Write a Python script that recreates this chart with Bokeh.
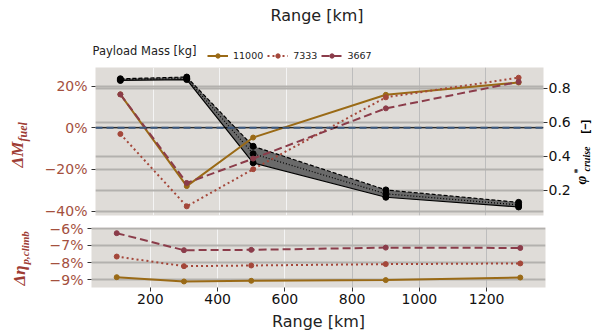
import numpy as np
from bokeh.plotting import figure
from bokeh.models import (Range1d, LinearAxis, FixedTicker, Grid, Span, Label,
                          Legend, LegendItem)
from bokeh.layouts import column, row
from bokeh.embed import file_html
from bokeh.resources import INLINE

# ---------------- data ----------------
range_km = [100, 300, 500, 900, 1300]
payload_labels = ["11000", "7333", "3667"]

dmf_11000 = [16.0, -28.0, -4.7, 15.8, 21.7]
dmf_7333 = [-3.0, -37.7, -19.9, 14.6, 24.0]
dmf_3667 = [16.0, -26.5, -14.8, 9.3, 22.0]

phi_11000 = [0.845, 0.850, 0.362, 0.160, 0.103]
phi_7333 = [0.850, 0.857, 0.415, 0.180, 0.115]
phi_3667 = [0.855, 0.865, 0.459, 0.203, 0.130]

deta_11000 = [-8.85, -9.10, -9.06, -9.02, -8.87]
deta_7333 = [-7.65, -8.21, -8.17, -8.09, -8.05]
deta_3667 = [-6.29, -7.28, -7.26, -7.13, -7.15]

x_ticks = [200, 400, 600, 800, 1000, 1200]
dmf_ticks = [-40, -20, 0, 20]
dmf_tick_labels = ["\u221240%", "\u221220%", "0%", "20%"]
phi_ticks = [0.2, 0.4, 0.6, 0.8]
deta_ticks = [-9, -8, -7, -6]
deta_tick_labels = ["\u22129%", "\u22128%", "\u22127%", "\u22126%"]

# ---------------- style ----------------
BG = "#dfdcd8"
HGRID = "#b3b1ae"
C_GOLD = "#9a6a16"
C_DOT = "#a4473a"
C_DASH = "#8b3c4a"
C_AX = "#a4503e"
C_TITLE = "#9e3c34"
FONT = "DejaVu Sans"
SERIF = "Liberation Serif"

PAGE_W = 595
HEAD_H = 67
ROW1_H, ROW2_H = 153, 115
LCOL, RCOL = 41, 22
MAIN_W = PAGE_W - LCOL - RCOL
BL, BR = 50, 28
STYLES = [(C_GOLD, "solid"), (C_DOT, "2 3"), (C_DASH, "8 4")]


def blank(w, h):
    f = figure(width=w, height=h, output_backend="svg", toolbar_location=None,
               x_range=Range1d(0, 1), y_range=Range1d(0, 1),
               x_axis_location=None, y_axis_location=None, min_border=0)
    f.outline_line_color = None
    f.background_fill_color = "white"
    f.border_fill_color = "white"
    f.xgrid.visible = False
    f.ygrid.visible = False
    try:
        f.frame_align = False
    except Exception:
        pass
    return f


def style(p):
    p.background_fill_color = BG
    p.border_fill_color = "white"
    p.outline_line_color = None
    p.min_border_left = BL
    p.min_border_right = BR
    p.xgrid.visible = False
    p.ygrid.visible = False
    for ax in p.axis:
        ax.axis_line_color = None
        ax.minor_tick_line_color = None
        ax.major_tick_in = 0
        ax.major_tick_out = 4
        ax.major_tick_line_color = "#333333"
        ax.major_label_text_font = FONT
        ax.major_label_text_font_size = "14px"
    p.add_layout(Grid(dimension=0, ticker=FixedTicker(ticks=x_ticks[:3]),
                      grid_line_color="#f4f4f4", grid_line_width=1))
    p.add_layout(Grid(dimension=0, ticker=FixedTicker(ticks=x_ticks[3:]),
                      grid_line_color="#bdbdbd", grid_line_width=1))


def vlabel(fig, px, py, text, size, font=SERIF, style_="bold italic", color="black",
           x0=0, ybot=0):
    """Vertical (bottom-to-top) label; px = page x of the text baseline,
    py = page y where the text starts."""
    fig.add_layout(Label(x=px - x0 - 0.5 * size, y=ybot - py, text=text, text_font=font,
                         text_font_size=f"{size}px", text_font_style=style_,
                         text_color=color, angle=np.pi / 2, angle_units="rad",
                         text_align="left", text_baseline="alphabetic",
                         x_units="screen", y_units="screen"))


# ---------------- header (title + legend) ----------------
head = blank(PAGE_W, HEAD_H)
head.add_layout(Label(x=316.5, y=HEAD_H - 14.5, x_units="screen", y_units="screen",
                      text="Range [km]", text_font=FONT, text_font_size="16px",
                      text_color="#222222", text_align="center", text_baseline="middle"))
head.add_layout(Label(x=92, y=HEAD_H - 50, x_units="screen", y_units="screen",
                      text="Payload Mass [kg]", text_font=FONT, text_font_size="11.5px",
                      text_color="#222222", text_align="left", text_baseline="middle"))
leg_items = []
for lab, vals, (col, dash) in zip(payload_labels, [dmf_11000, dmf_7333, dmf_3667], STYLES):
    # same series drawn in the header (outside its visible range) only to key the legend
    lr = head.line(range_km, vals, line_color=col, line_width=2, line_dash=dash)
    sr = head.scatter(range_km, vals, size=5, color=col)
    leg_items.append(LegendItem(label=lab, renderers=[lr, sr]))
legend = Legend(items=leg_items, location=(207, HEAD_H - 61), orientation="horizontal",
                glyph_width=21, glyph_height=11, label_standoff=5, spacing=4,
                padding=0, margin=0, label_text_font=FONT, label_text_font_size="9.5px",
                label_text_color="#222222", background_fill_alpha=0,
                border_line_color=None)
head.add_layout(legend)

# ---------------- top panel ----------------
p1 = figure(width=MAIN_W, height=ROW1_H, output_backend="svg", toolbar_location=None,
            x_range=Range1d(25, 1375), y_range=Range1d(-42.1, 28.9),
            x_axis_location=None, min_border_top=0, min_border_bottom=5)
p1.extra_y_ranges = {"phi": Range1d(0.053, 0.921)}
p1.add_layout(LinearAxis(y_range_name="phi", ticker=FixedTicker(ticks=phi_ticks)), "right")
style(p1)

ly = p1.yaxis[0]
ly.ticker = FixedTicker(ticks=dmf_ticks)
ly.major_label_overrides = {t: s for t, s in zip(dmf_ticks, dmf_tick_labels)}
ly.major_label_text_color = C_AX
ly.major_label_standoff = 4
ry = p1.yaxis[1]
ry.major_label_text_color = "#111111"
ry.major_label_standoff = 1

p1.add_layout(Grid(dimension=1, ticker=FixedTicker(ticks=dmf_ticks),
                   grid_line_color=HGRID, grid_line_width=2))
p1.add_layout(Grid(dimension=1, ticker=FixedTicker(ticks=phi_ticks), y_range_name="phi",
                   grid_line_color=HGRID, grid_line_width=2))

phis = np.array([phi_11000, phi_7333, phi_3667])
p1.varea(x=range_km, y1=phis.min(axis=0), y2=phis.max(axis=0), y_range_name="phi",
         fill_color="#6a6a6a", fill_alpha=1.0)
for ph, dash in zip([phi_11000, phi_7333, phi_3667], ["solid", "1 2", "4 2"]):
    p1.line(range_km, ph, y_range_name="phi", line_color="black", line_width=1.2,
            line_dash=dash)
    p1.scatter(range_km, ph, y_range_name="phi", size=6, color="black")

p1.add_layout(Span(location=0, dimension="width", line_color="black", line_width=1))
p1.add_layout(Span(location=0, dimension="width", line_color="#3d5a80", line_width=2,
                   line_dash="7 4"))

for vals, (col, dash) in zip([dmf_11000, dmf_7333, dmf_3667], STYLES):
    p1.line(range_km, vals, line_color=col, line_width=2, line_dash=dash)
    p1.scatter(range_km, vals, size=5, color=col)

# left title of top panel (page rows 67..220)
l1 = blank(LCOL, ROW1_H)
vlabel(l1, 25, 167, "\u0394M", 17, color=C_TITLE, ybot=220)
vlabel(l1, 28.5, 141, "fuel", 12, color=C_TITLE, ybot=220)

# right title of top panel (page cols 573..595)
RX = PAGE_W - RCOL
r1 = blank(RCOL, ROW1_H)
vlabel(r1, 588, 184, "\u03c6", 15, x0=RX, ybot=220)
vlabel(r1, 582, 173, "*", 10, style_="bold", x0=RX, ybot=220)
vlabel(r1, 591, 171, "cruise", 10, x0=RX, ybot=220)
vlabel(r1, 590, 133, "[\u2212]", 11, font="Liberation Sans", style_="bold", x0=RX, ybot=220)

# ---------------- bottom panel ----------------
p2 = figure(width=MAIN_W, height=ROW2_H, output_backend="svg", toolbar_location=None,
            x_range=p1.x_range, y_range=Range1d(-9.45, -5.96),
            min_border_top=7, min_border_bottom=48)
style(p2)
p2.xaxis.ticker = FixedTicker(ticks=x_ticks)
p2.xaxis.major_label_standoff = 2
p2.xaxis.major_label_text_color = "#111111"
p2.xaxis.axis_label = "Range [km]"
p2.xaxis.axis_label_text_font = FONT
p2.xaxis.axis_label_text_font_size = "16px"
p2.xaxis.axis_label_text_font_style = "normal"
p2.xaxis.axis_label_text_color = "#222222"
p2.xaxis.axis_label_standoff = 5
p2.yaxis.ticker = FixedTicker(ticks=deta_ticks)
p2.yaxis.major_label_overrides = {t: s for t, s in zip(deta_ticks, deta_tick_labels)}
p2.yaxis.major_label_text_color = C_AX
p2.yaxis.major_label_standoff = 4
p2.add_layout(Grid(dimension=1, ticker=FixedTicker(ticks=deta_ticks),
                   grid_line_color=HGRID, grid_line_width=2))

for vals, (col, dash) in zip([deta_11000, deta_7333, deta_3667], STYLES):
    p2.line(range_km, vals, line_color=col, line_width=2, line_dash=dash)
    p2.scatter(range_km, vals, size=5, color=col)

# left title of bottom panel (page rows 220..335)
l2 = blank(LCOL, ROW2_H)
vlabel(l2, 27, 285, "\u0394\u03b7", 17, color=C_TITLE, ybot=335)
vlabel(l2, 30, 264, "p,climb", 11, color=C_TITLE, ybot=335)
r2 = blank(RCOL, ROW2_H)

layout = column(head, row(l1, p1, r1), row(l2, p2, r2))
open("out.html", "w").write(file_html(layout, INLINE))
